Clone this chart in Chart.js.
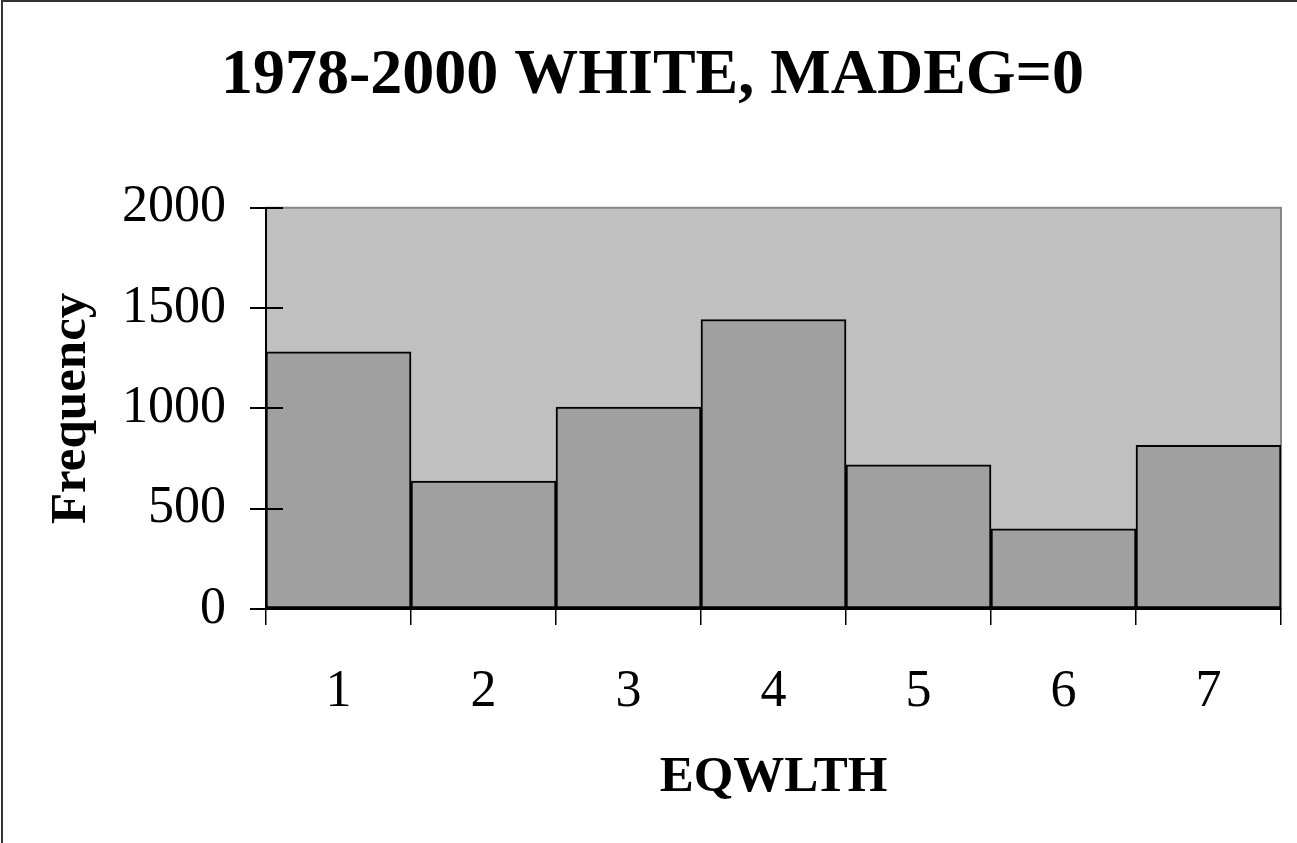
<!DOCTYPE html>
<html>
<head>
<meta charset="utf-8">
<script src="https://cdn.jsdelivr.net/npm/chart.js@4"></script>
<style>
  html, body { margin: 0; padding: 0; background: #fff; }
  #wrap { width: 1297px; height: 843px; position: relative; }
</style>
</head>
<body>
<div id="wrap"><canvas id="c" width="1297" height="843"></canvas></div>
<script>
// Frequency of EQWLTH responses, 1978-2000, white respondents, MADEG=0
const categories = ['1', '2', '3', '4', '5', '6', '7'];
const frequencies = [1282, 638, 1006, 1443, 719, 400, 816];
const yTickValues = [0, 500, 1000, 1500, 2000];

const SERIF = "'Liberation Serif', 'Times New Roman', serif";

// Plot-area background, frame and the inner half of the y tick marks
const framePlugin = {
  id: 'frame',
  beforeDraw(chart) {
    const { ctx, chartArea: a, width, height } = chart;
    ctx.save();
    ctx.fillStyle = '#ffffff';
    ctx.fillRect(0, 0, width, height);
    // outer frame (top & left edges)
    ctx.strokeStyle = '#333333';
    ctx.lineWidth = 2;
    ctx.beginPath();
    ctx.moveTo(2, height);
    ctx.lineTo(2, 1);
    ctx.lineTo(width, 1);
    ctx.stroke();
    // plot background
    ctx.fillStyle = '#c0c0c0';
    ctx.fillRect(a.left, a.top, a.right - a.left, a.bottom - a.top);
    // top and right edges of the plot area
    ctx.strokeStyle = '#868686';
    ctx.lineWidth = 2;
    ctx.beginPath();
    ctx.moveTo(a.left, a.top);
    ctx.lineTo(a.right, a.top);
    ctx.lineTo(a.right, a.bottom);
    ctx.stroke();
    ctx.restore();
  },
  afterDatasetsDraw(chart) {
    const { ctx, chartArea: a, scales } = chart;
    const y = scales.y;
    ctx.save();
    ctx.strokeStyle = '#000';
    ctx.lineWidth = 2;
    ctx.beginPath();
    yTickValues.forEach(v => {
      if (v === 0) return;
      const py = Math.round(y.getPixelForValue(v));
      ctx.moveTo(a.left, py);
      ctx.lineTo(a.left + 17, py);
    });
    // axis lines
    ctx.moveTo(a.left, a.top);
    ctx.lineTo(a.left, a.bottom);
    ctx.lineTo(a.right, a.bottom);
    ctx.stroke();
    ctx.restore();
  }
};

new Chart(document.getElementById('c'), {
  type: 'bar',
  data: {
    labels: categories,
    datasets: [{
      data: frequencies,
      backgroundColor: '#a0a0a0',
      borderColor: '#000000',
      borderWidth: 2,
      borderSkipped: false,
      categoryPercentage: 1.0,
      barPercentage: 1.0
    }]
  },
  options: {
    responsive: false,
    animation: false,
    devicePixelRatio: 1,
    layout: { padding: { left: 24, right: 16, top: 0, bottom: 0 } },
    plugins: {
      legend: { display: false },
      tooltip: { enabled: false },
      title: {
        display: true,
        text: '1978-2000 WHITE, MADEG=0',
        color: '#000',
        font: { family: SERIF, size: 64, weight: 'bold', lineHeight: 1.2 },
        padding: { top: 38, bottom: 93 }
      }
    },
    scales: {
      x: {
        afterFit(scale) { scale.height = 234; },
        grid: {
          display: true,
          drawOnChartArea: false,
          drawTicks: true,
          tickLength: 16,
          color: '#000',
          lineWidth: 1.5,
          offset: true
        },
        border: { display: true, color: '#000', width: 2 },
        ticks: {
          color: '#000',
          font: { family: SERIF, size: 52 },
          padding: 36,
          maxRotation: 0
        },
        title: {
          display: true,
          text: 'EQWLTH',
          color: '#000',
          font: { family: SERIF, size: 51, weight: 'bold', lineHeight: 1.2 },
          padding: { top: 0, bottom: 35 }
        }
      },
      y: {
        min: 0,
        max: 2000,
        afterFit(scale) { scale.width = 242; },
        afterBuildTicks(scale) { scale.ticks = yTickValues.map(v => ({ value: v })); },
        grid: {
          display: true,
          drawOnChartArea: false,
          drawTicks: true,
          tickLength: 16,
          color: '#000',
          lineWidth: 2
        },
        border: { display: true, color: '#000', width: 2 },
        ticks: {
          color: '#000',
          font: { family: SERIF, size: 52 },
          padding: 24,
          callback: v => String(v)
        },
        title: {
          display: true,
          text: 'Frequency',
          color: '#000',
          font: { family: SERIF, size: 51, weight: 'bold', lineHeight: 1.2 },
          padding: { top: 17, bottom: 0 }
        }
      }
    }
  },
  plugins: [framePlugin]
});
</script>
</body>
</html>
